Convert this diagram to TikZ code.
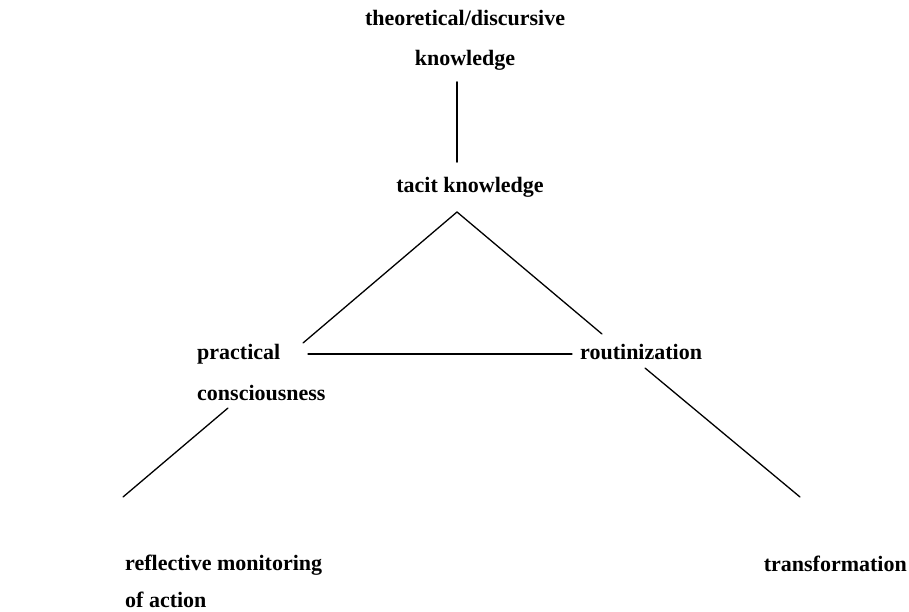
\documentclass[tikz,border=0pt]{standalone}
\usepackage{fontspec}
\setmainfont{Liberation Serif}
\usepackage{tikz}
\usetikzlibrary{positioning, calc}

\begin{document}
\begin{tikzpicture}[
  x=1pt, y=-1pt,
  term/.style={inner sep=0pt, align=left, font=\bfseries\fontsize{22}{41}\selectfont},
  link/.style={line width=1.3pt, line cap=round}
]
  \useasboundingbox (0,0) rectangle (909,612);

  % labels
  \node[term, anchor=base] (theo) at (465,26) {theoretical/discursive};
  \node[term, anchor=base] (know) at (465,66) {knowledge};
  \node[term, anchor=base] (tacit) at (470,193) {tacit knowledge};
  \node[term, anchor=base west] (prac) at (197,400) {practical\\consciousness};
  \node[term, anchor=base west] (rout) at (580,359) {routinization};
  \node[term, anchor=base west, font=\bfseries\fontsize{22}{37}\selectfont]
    (refl) at (125,607) {reflective monitoring\\of action};
  \node[term, anchor=base east] (trans) at (907,571) {transformation};

  % line ends
  \coordinate (know-end) at (457,82);
  \coordinate (tacit-top) at (457,162);
  \coordinate (apex) at (457,212);
  \coordinate (prac-leg) at (303,343);
  \coordinate (rout-leg) at (602,334);
  \coordinate (prac-side) at (308,354);
  \coordinate (rout-side) at (572,354);
  \coordinate (cons-low) at (228,408);
  \coordinate (refl-top) at (123,497);
  \coordinate (rout-low) at (645,368);
  \coordinate (trans-top) at (800,497);

  \draw[link, line width=1.8pt] (know-end) -- (tacit-top);
  \draw[link] (prac-leg) -- (apex) -- (rout-leg);
  \draw[link] (prac-side) -- (rout-side);
  \draw[link] (cons-low) -- (refl-top);
  \draw[link] (rout-low) -- (trans-top);
\end{tikzpicture}
\end{document}
